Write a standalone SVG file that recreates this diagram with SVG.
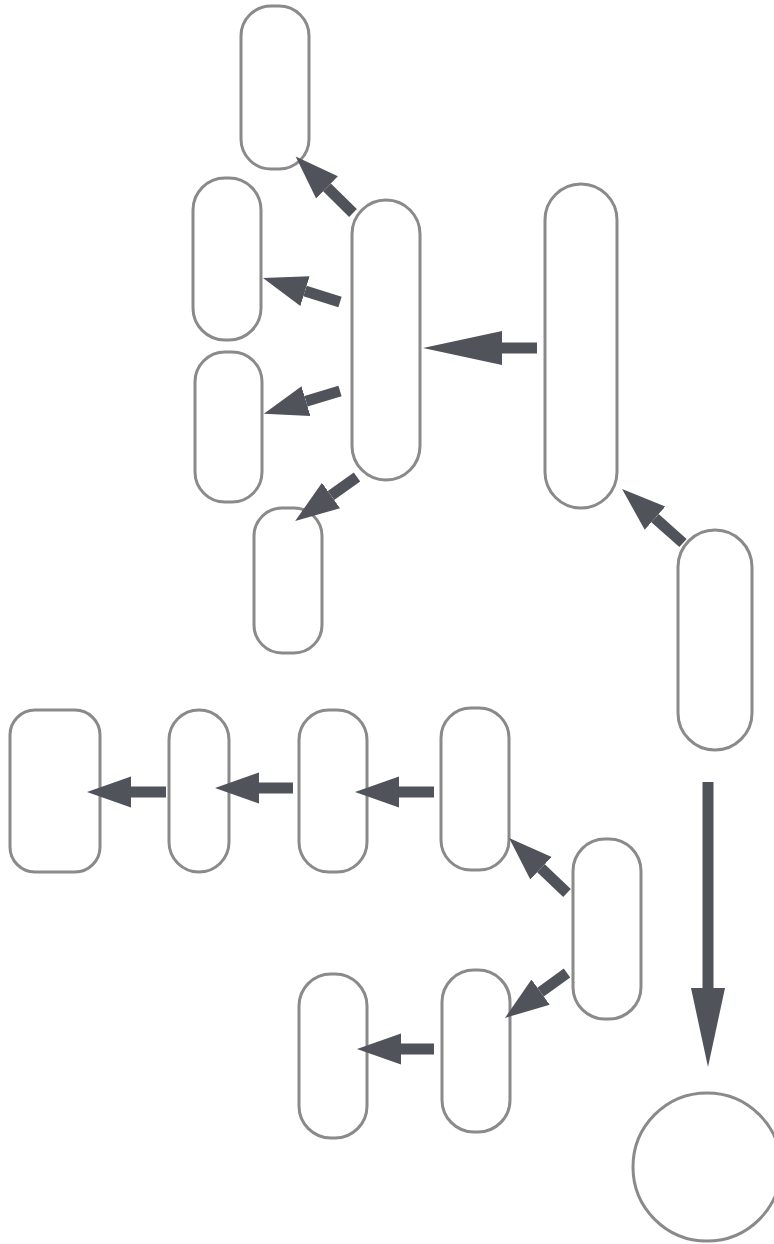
<svg xmlns="http://www.w3.org/2000/svg" width="774" height="1244" viewBox="0 0 774 1244">
<style>
.n{fill:#fff;stroke:#8a8a8a;stroke-width:3}
.c line{stroke:#50535a;stroke-width:11;stroke-linecap:butt}
.s{marker-end:url(#hs)}
.b{marker-end:url(#hb)}
</style>
<defs>
<marker id="hs" viewBox="0 -17 45 34" markerWidth="45" markerHeight="34" refX="0" refY="0" orient="auto" markerUnits="userSpaceOnUse"><path d="M0,-15.5 L44,0 L0,15.5 z" fill="#50535a"/></marker>
<marker id="hb" viewBox="0 -18 80 36" markerWidth="80" markerHeight="36" refX="0" refY="0" orient="auto" markerUnits="userSpaceOnUse"><path d="M0,-17 L79,0 L0,17 z" fill="#50535a"/></marker>
</defs>
<rect width="774" height="1244" fill="#fff"/>
<g id="nA"><rect class="n" x="241" y="6" width="68" height="163" rx="30"/></g>
<g id="nB"><rect class="n" x="193" y="178" width="68" height="162" rx="32"/></g>
<g id="nC"><rect class="n" x="352" y="200" width="68" height="280" rx="34"/></g>
<g id="nD"><rect class="n" x="195" y="352" width="67" height="150" rx="30"/></g>
<g id="nE"><rect class="n" x="254" y="508" width="68" height="145" rx="28"/></g>
<g id="nF"><rect class="n" x="545" y="184" width="72" height="324" rx="36"/></g>
<g id="nG"><rect class="n" x="678" y="530" width="74" height="220" rx="37"/></g>
<g id="nH"><rect class="n" x="10" y="710" width="90" height="162" rx="25"/></g>
<g id="nI"><rect class="n" x="169" y="710" width="60" height="162" rx="30"/></g>
<g id="nJ"><rect class="n" x="299" y="710" width="68" height="162" rx="30"/></g>
<g id="nK"><rect class="n" x="441" y="708" width="68" height="162" rx="30"/></g>
<g id="nL"><rect class="n" x="573" y="839" width="68" height="180" rx="32"/></g>
<g id="nM"><rect class="n" x="442" y="970" width="68" height="162" rx="32"/></g>
<g id="nN"><rect class="n" x="299" y="974" width="68" height="164" rx="32"/></g>
<g id="nO"><circle class="n" cx="707" cy="1167" r="74"/></g>
<g id="connectors" class="c">
<line class="s" x1="353" y1="213" x2="327" y2="187.4"/>
<line class="s" x1="340" y1="302" x2="305" y2="291.1"/>
<line class="s" x1="340" y1="391" x2="306" y2="401.2"/>
<line class="s" x1="357" y1="477" x2="331" y2="495.5"/>
<line class="b" x1="537" y1="348" x2="502" y2="348"/>
<line class="s" x1="683" y1="543" x2="655" y2="518.2"/>
<line class="s" x1="166" y1="792" x2="131" y2="792"/>
<line class="s" x1="293" y1="788" x2="259" y2="788"/>
<line class="s" x1="434" y1="792" x2="399" y2="792"/>
<line class="s" x1="567" y1="893" x2="541" y2="868.3"/>
<line class="s" x1="567" y1="973" x2="540.6" y2="992.1"/>
<line class="s" x1="434" y1="1049" x2="401" y2="1049"/>
<line class="b" x1="708" y1="782" x2="708" y2="988"/>
</g>
</svg>
